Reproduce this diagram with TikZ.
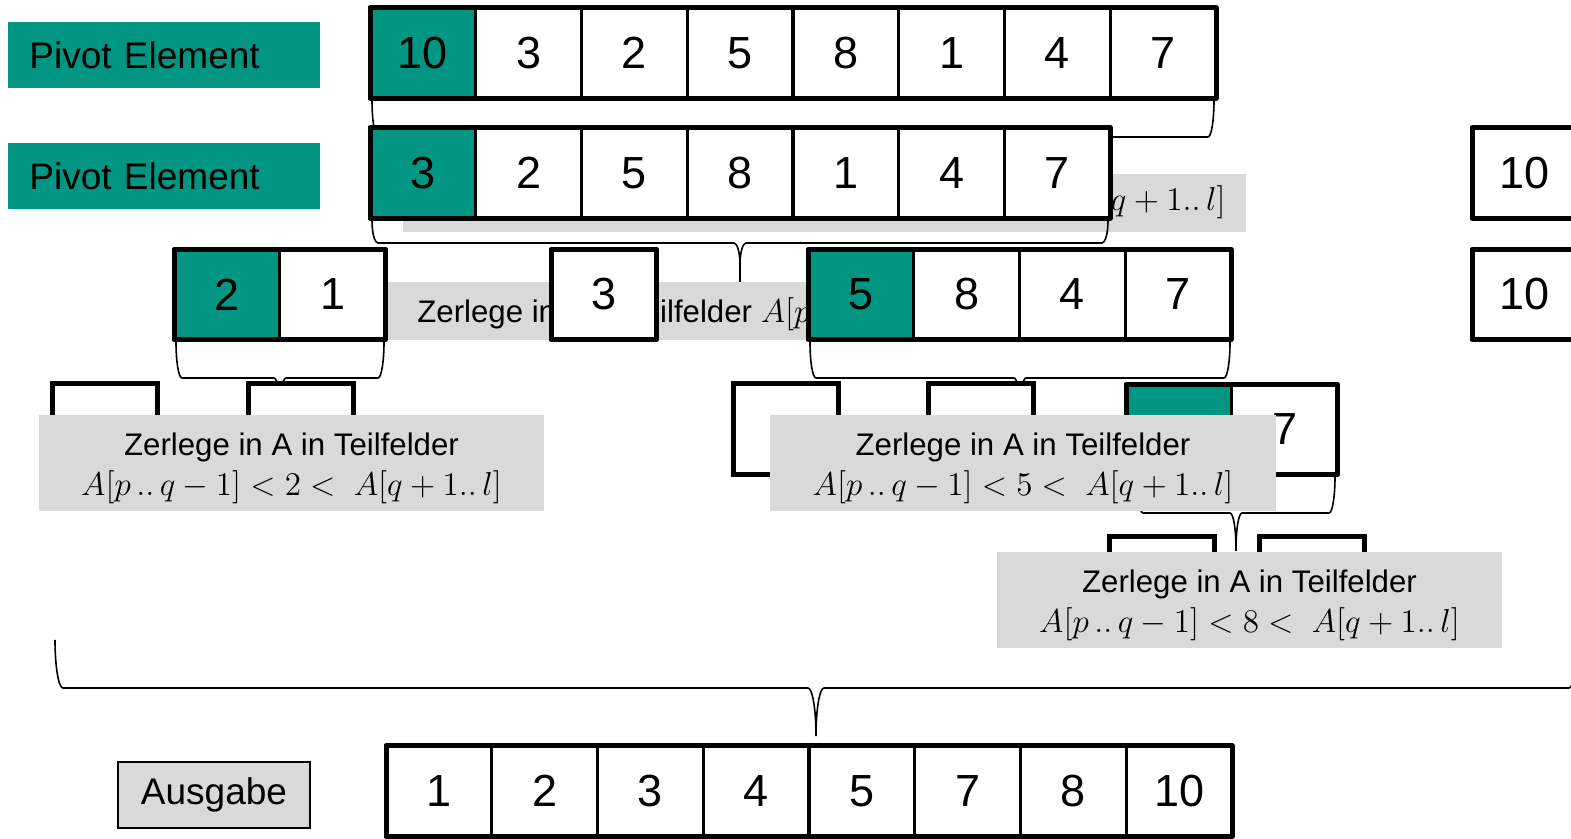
\documentclass[tikz,border=0pt]{standalone}
\usepackage{fontspec}
\setmainfont{Liberation Sans}
\usepackage{graphicx}
\definecolor{kit}{RGB}{0,150,130}
\definecolor{lgray}{RGB}{217,217,217}
\newcommand\gfont{\fontsize{15.6}{20}\selectfont}
\newcommand\formula[1]{\scalebox{1.15}{$A[p\,..\,q-1]<#1<\;A[q+1..\,l]$}}
\tikzset{
  cell/.style={draw=black, line width=1.7pt, fill=white, minimum width=52.875pt,
    minimum height=45.25pt, inner sep=0pt, outer sep=0pt, font=\fontsize{22.5}{27}\selectfont},
  outer/.style={draw=black, line width=2.5pt, line join=round},
  brace/.style={draw=black, line width=0.8pt},
  graybox/.style={fill=lgray, inner sep=0pt, outer sep=0pt},
  gtext/.style={inner sep=0pt, align=center, font=\gfont},
  pivlbl/.style={fill=kit, minimum height=33pt, text width=135pt, inner xsep=10.5pt,
    align=left, font=\fontsize{18.5}{22}\selectfont},
}
\newcommand\myarr[5]{%
  \foreach \v [count=\i] in {#5}{%
    \pgfmathsetmacro\cx{#2+(\i-0.5)*105.75}%
    \ifnum\i=1 \ifnum#4=1 \def\cfill{kit}\else\def\cfill{white}\fi\else\def\cfill{white}\fi
    \node[cell, fill=\cfill] (#1-\i) at (\cx,#3) {\raisebox{-1.2pt}{\v}};
    \xdef\lastcell{\i}%
  }%
  \draw[outer] (#1-1.north west) rectangle (#1-\lastcell.south east);
}
\newcommand\pbrace[6]{%
  \pgfmathsetmacro\xm{(#1+#2)/2}%
  \pgfmathsetmacro\hh{#4-#3}%
  \draw[brace] (#1,#3) .. controls (#1,{#3+0.5523*\hh}) and ({#1+0.4477*#6},#4) .. ({#1+#6},#4)
    -- ({\xm-#6},#4) .. controls ({\xm-0.4477*#6},#4) and (\xm,{#4+0.4477*\hh}) .. (\xm,{#4+\hh}) -- (\xm,#5)
    (\xm,{#4+\hh}) .. controls (\xm,{#4+0.4477*\hh}) and ({\xm+0.4477*#6},#4) .. ({\xm+#6},#4)
    -- ({#2-#6},#4) .. controls ({#2-0.4477*#6},#4) and (#2,{#3+0.5523*\hh}) .. (#2,#3);
}
\begin{document}
\begin{tikzpicture}[x=0.5pt,y=-0.5pt]
\useasboundingbox[fill=white] (0,0) rectangle (1571,839);
% labels
\node[pivlbl, anchor=north west] (piv1) at (8,22) {Pivot Element};
\node[pivlbl, anchor=north west] (piv2) at (8,143) {Pivot Element};
% row 1
\myarr{ra}{370}{53}{1}{10,3,2,5,8,1,4,7}
\pbrace{372}{1214}{100}{137}{174}{6}
% gray box for pivot 10
\node[graybox, anchor=north west, minimum width=421.5pt, minimum height=29pt] (g1) at (403,174) {};
\node[gtext, anchor=east] (g1t) at (1226,202) {Zerlege in A in Teilfelder \formula{10}};
% row 2
\myarr{rb}{370}{173}{1}{3,2,5,8,1,4,7}
\myarr{rbx}{1472}{173}{0}{10}
\pbrace{372}{1108}{221}{243}{282}{6}
% gray box for pivot 3
\node[graybox, anchor=north west, minimum width=421.5pt, minimum height=29pt] (g2) at (388,282) {};
\node[gtext, anchor=west] (g2t) at (417,314) {Zerlege in A in Teilfelder \formula{3}};
% row 3
\myarr{rc}{174}{294.5}{1}{2,1}
\myarr{rd}{551}{294.5}{0}{3}
\myarr{re}{808}{294.5}{1}{5,8,4,7}
\myarr{rex}{1472}{294.5}{0}{10}
\pbrace{176}{384}{342}{378}{414}{6}
\pbrace{810}{1230}{342}{378}{414}{6}
% row 4
\node[cell, line width=2.5pt, anchor=north west] (r4a) at (52,384) {};
\node[cell, line width=2.5pt, anchor=north west] (r4b) at (248,384) {};
\node[cell, line width=2.5pt, anchor=north west] (r4c) at (733,384) {};
\node[cell, line width=2.5pt, anchor=north west] (r4d) at (928,384) {};
\myarr{r4e}{1126}{429.5}{1}{{},7}
\pbrace{1137}{1335}{477}{513}{551}{6}
\node[graybox, minimum width=252.5pt, minimum height=48pt] (g3) at (291.5,463) {};
\node[gtext] (g3t) at (291.5,468) {Zerlege in A in Teilfelder\\\formula{2}};
\node[graybox, minimum width=253pt, minimum height=48pt] (g4) at (1023,463) {};
\node[gtext] (g4t) at (1023,468) {Zerlege in A in Teilfelder\\\formula{5}};
% row 5
\node[cell, line width=2.5pt, anchor=north west] (r5a) at (1109,537) {};
\node[cell, line width=2.5pt, anchor=north west] (r5b) at (1259,537) {};
\node[graybox, minimum width=252.5pt, minimum height=48pt] (g5) at (1249.5,600) {};
\node[gtext] (g5t) at (1249.5,605) {Zerlege in A in Teilfelder\\\formula{8}};
% big brace
\pbrace{55}{1577}{640}{688}{736}{8}
% output
\node[draw=black, line width=0.75pt, fill=lgray, minimum width=96pt, minimum height=33pt,
  inner sep=0pt, font=\fontsize{18.5}{22}\selectfont] (aus) at (214,795) {Ausgabe};
\myarr{out}{386}{791}{0}{1,2,3,4,5,7,8,10}
\end{tikzpicture}
\end{document}
